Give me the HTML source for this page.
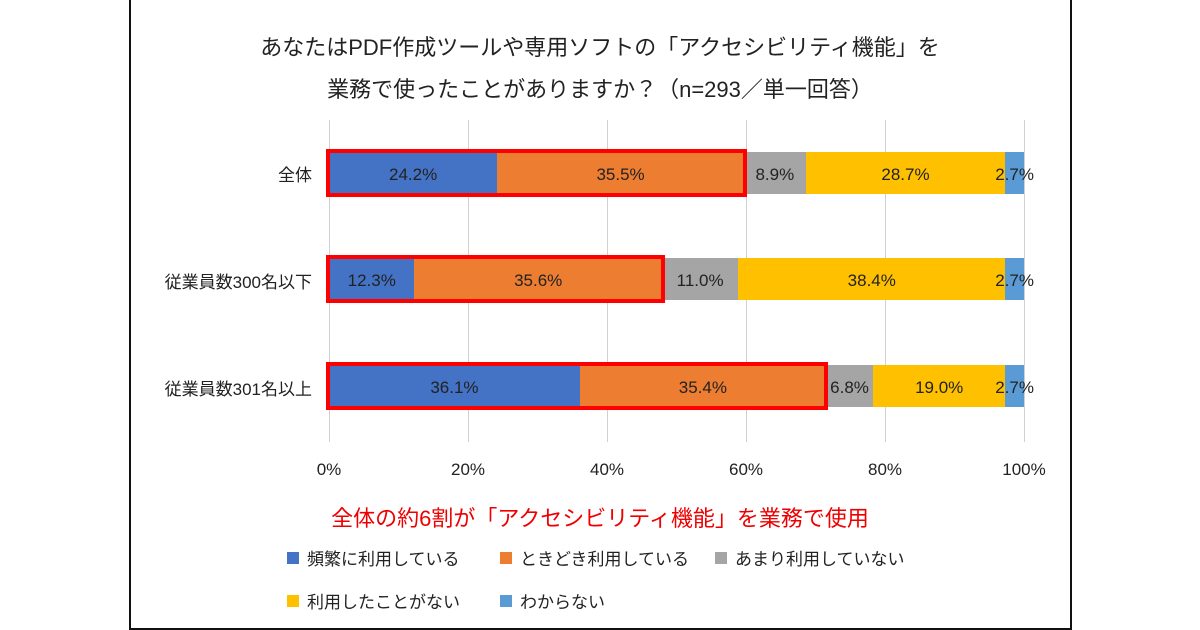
<!DOCTYPE html>
<html><head><meta charset="utf-8"><style>
body{margin:0;width:1200px;height:630px;background:#fff;position:relative;overflow:hidden;font-family:"Liberation Sans","Noto Sans CJK JP",sans-serif;color:#222}
.a{position:absolute}
.frame{left:129px;top:-2px;width:939px;height:628px;border:2px solid #111}
.t{left:130px;width:940px;text-align:center;font-size:22px}
.g{width:1px;background:#d0d0d0;top:120px;height:322px}
.bar{height:42px;display:flex;font-size:17px}
.bar div{height:100%;display:flex;align-items:center;justify-content:center;white-space:nowrap;padding-top:3px;box-sizing:border-box}
.red{border:4px solid #f00;box-sizing:border-box}
.lab{font-size:17px;text-align:right;width:182px;left:130px}
.tick{font-size:17px;width:80px;text-align:center;top:460px}
.lg{font-size:17px;display:flex;align-items:center}
.lg i{display:inline-block;width:12px;height:12px;margin-right:8px}
</style></head><body>
<div class="a frame"></div>
<div class="a t" style="top:30px">あなたはPDF作成ツールや専用ソフトの「アクセシビリティ機能」を</div>
<div class="a t" style="top:72px">業務で使ったことがありますか？（n=293／単一回答）</div>
<div class="a g" style="left:329px"></div><div class="a g" style="left:468px"></div><div class="a g" style="left:607px"></div><div class="a g" style="left:746px"></div><div class="a g" style="left:885px"></div><div class="a g" style="left:1024px"></div>

<div class="a lab" style="top:161px">全体</div>
<div class="a lab" style="top:268px">従業員数300名以下</div>
<div class="a lab" style="top:375px">従業員数301名以上</div>

<div class="a bar" style="left:329px;top:152px;width:695px">
<div style="width:24.2%;background:#4472C4">24.2%</div><div style="width:35.5%;background:#ED7D31">35.5%</div><div style="width:8.9%;background:#A5A5A5">8.9%</div><div style="width:28.7%;background:#FFC000">28.7%</div><div style="width:2.7%;background:#5B9BD5">2.7%</div></div>
<div class="a bar" style="left:329px;top:258px;width:695px">
<div style="width:12.3%;background:#4472C4">12.3%</div><div style="width:35.6%;background:#ED7D31">35.6%</div><div style="width:11.0%;background:#A5A5A5">11.0%</div><div style="width:38.4%;background:#FFC000">38.4%</div><div style="width:2.7%;background:#5B9BD5">2.7%</div></div>
<div class="a bar" style="left:329px;top:365px;width:695px">
<div style="width:36.1%;background:#4472C4">36.1%</div><div style="width:35.4%;background:#ED7D31">35.4%</div><div style="width:6.8%;background:#A5A5A5">6.8%</div><div style="width:19.0%;background:#FFC000">19.0%</div><div style="width:2.7%;background:#5B9BD5">2.7%</div></div>

<div class="a red" style="left:326px;top:149px;width:421px;height:48px"></div>
<div class="a red" style="left:326px;top:255px;width:339px;height:48px"></div>
<div class="a red" style="left:326px;top:362px;width:502px;height:48px"></div>

<div class="a tick" style="left:289px">0%</div><div class="a tick" style="left:428px">20%</div><div class="a tick" style="left:567px">40%</div><div class="a tick" style="left:706px">60%</div><div class="a tick" style="left:845px">80%</div><div class="a tick" style="left:984px">100%</div>

<div class="a t" style="top:501px;color:#e00;font-size:22px">全体の約6割が「アクセシビリティ機能」を業務で使用</div>

<div class="a lg" style="left:287px;top:545px"><i style="background:#4472C4"></i>頻繁に利用している</div>
<div class="a lg" style="left:500px;top:545px"><i style="background:#ED7D31"></i>ときどき利用している</div>
<div class="a lg" style="left:715px;top:545px"><i style="background:#A5A5A5"></i>あまり利用していない</div>
<div class="a lg" style="left:287px;top:588px"><i style="background:#FFC000"></i>利用したことがない</div>
<div class="a lg" style="left:500px;top:588px"><i style="background:#5B9BD5"></i>わからない</div>
</body></html>
